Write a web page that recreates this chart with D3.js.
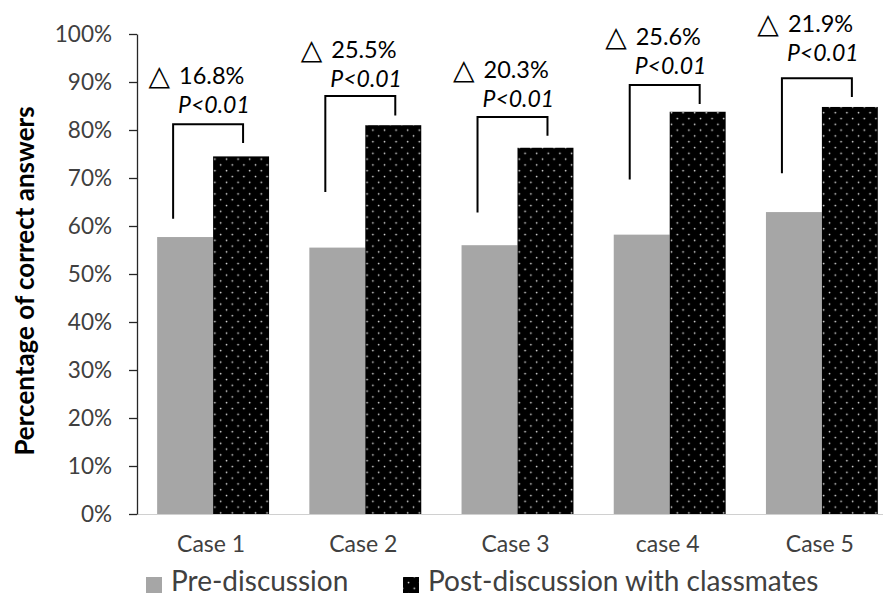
<!DOCTYPE html>
<html>
<head>
<meta charset="utf-8">
<script src="https://cdn.jsdelivr.net/npm/d3@7"></script>
<style>
  html, body { margin: 0; padding: 0; background: #fff; }
  svg { display: block; font-family: Lato, "Open Sans", sans-serif; }
</style>
</head>
<body>
<svg id="chart" width="883" height="598"></svg>
<script>
// ---- data ----
const categories = ["Case 1", "Case 2", "Case 3", "case 4", "Case 5"];
const seriesNames = ["Pre-discussion", "Post-discussion with classmates"];
const preValues  = [57.7, 55.5, 56.0, 58.2, 62.9];
const postValues = [74.5, 81.0, 76.3, 83.8, 84.8];
const deltaLabels = ["16.8%", "25.5%", "20.3%", "25.6%", "21.9%"];
const pLabels = ["P<0.01", "P<0.01", "P<0.01", "P<0.01", "P<0.01"];
// bracket levels (in % units)
const bracketTop   = [81.2, 87.1, 82.7, 89.4, 90.8];
const bracketLeftEnd  = [61.5, 67.1, 62.8, 69.7, 71.0];
const bracketRightEnd = [77.3, 83.0, 78.8, 85.4, 86.9];
const labelLevel = [89.6, 95.0, 90.8, 97.7, 100.4];
const yTicks = [0, 10, 20, 30, 40, 50, 60, 70, 80, 90, 100];

// ---- layout ----
const svg = d3.select("#chart");
const plotLeft = 137, plotTop = 34, plotBottom = 514, bandStep = 152.2;

const x0 = d3.scaleBand().domain(categories)
  .range([plotLeft, plotLeft + bandStep * categories.length]).padding(0);
const x1 = d3.scaleBand().domain(seriesNames)
  .range([0, x0.bandwidth()]).paddingInner(0).paddingOuter(0.36);
const y = d3.scaleLinear().domain([0, 100]).range([plotBottom, plotTop]);

// pattern
const defs = svg.append("defs");
const pat = defs.append("pattern").attr("id", "dots")
  .attr("patternUnits", "userSpaceOnUse").attr("width", 11.6).attr("height", 11.6);
pat.append("rect").attr("width", 11.6).attr("height", 11.6).attr("fill", "#000");
pat.append("circle").attr("cx", 2.5).attr("cy", 2.5).attr("r", 0.85).attr("fill", "#e6e6e6");
pat.append("circle").attr("cx", 8.3).attr("cy", 8.3).attr("r", 0.85).attr("fill", "#e6e6e6");

const colors = ["#a6a6a6", "url(#dots)"];

// x axis baseline
svg.append("line").attr("x1", plotLeft).attr("x2", 883)
  .attr("y1", plotBottom + 0.5).attr("y2", plotBottom + 0.5)
  .attr("stroke", "#d0d0d0").attr("stroke-width", 1.2);

// bars
const rows = categories.map((c, i) => ({c, vals: [preValues[i], postValues[i]]}));
const g = svg.append("g");
const groups = g.selectAll("g.cat").data(rows).join("g")
  .attr("transform", d => `translate(${x0(d.c)},0)`);
groups.selectAll("rect").data(d => d.vals.map((v, k) => ({k, v}))).join("rect")
  .attr("x", d => x1(seriesNames[d.k]))
  .attr("width", x1.bandwidth())
  .attr("y", d => y(d.v))
  .attr("height", d => y(0) - y(d.v))
  .attr("fill", d => colors[d.k]);

// y axis
const yAxis = d3.axisLeft(y).tickValues(yTicks).tickFormat(d => d + "%")
  .tickSizeOuter(0).tickSizeInner(8).tickPadding(17);
const ya = svg.append("g").attr("transform", `translate(${plotLeft},0)`).call(yAxis);
ya.select(".domain").attr("stroke", "#262626").attr("stroke-width", 1.3);
ya.selectAll(".tick line").attr("stroke", "#262626").attr("stroke-width", 1.3);
ya.selectAll(".tick text").attr("fill", "#404040")
  .style("font-family", "Lato, sans-serif").style("font-size", "22.5px");

// x labels
svg.append("g").selectAll("text").data(categories).join("text")
  .attr("x", d => x0(d) + x0.bandwidth() / 2 - 2)
  .attr("y", 552)
  .attr("text-anchor", "middle")
  .attr("fill", "#404040")
  .style("font-size", "23px")
  .text(d => d);

// y title
svg.append("text")
  .attr("transform", "translate(34,281) rotate(-90)")
  .attr("text-anchor", "middle")
  .attr("fill", "#000")
  .style("font-size", "26px").style("font-weight", "bold")
  .text("Percentage of correct answers");

// annotations
const ann = svg.append("g");
categories.forEach((c, i) => {
  const cx = x0(c) + x0.bandwidth() / 2;
  const preC = x0(c) + x1(seriesNames[0]) + x1.bandwidth() / 2;
  const postC = x0(c) + x1(seriesNames[1]) + x1.bandwidth() / 2;
  const lx = preC - 12, rx = postC + 2;
  ann.append("path")
    .attr("d", d3.line()([[lx, y(bracketLeftEnd[i])], [lx, y(bracketTop[i])],
                         [rx, y(bracketTop[i])], [rx, y(bracketRightEnd[i])]]))
    .attr("fill", "none").attr("stroke", "#000").attr("stroke-width", 2);
  const tx = cx - 34, ty = y(labelLevel[i]);
  ann.append("text").attr("x", tx - 9).attr("y", ty + 1)
    .attr("text-anchor", "end")
    .style("font-family", "'DejaVu Sans', sans-serif").style("font-size", "28px")
    .attr("fill", "#000").text("△");
  ann.append("text").attr("x", tx).attr("y", ty)
    .style("font-size", "23.5px").attr("fill", "#000").text(deltaLabels[i]);
  ann.append("text").attr("x", tx - 1).attr("y", ty + 29)
    .style("font-size", "23px").style("font-style", "italic").attr("fill", "#000")
    .text(pLabels[i]);
});

// legend
const legendX = [146, 403];
const leg = svg.append("g");
seriesNames.forEach((s, k) => {
  leg.append("rect").attr("x", legendX[k]).attr("y", 577).attr("width", 16).attr("height", 16)
    .attr("fill", colors[k]);
  leg.append("text").attr("x", legendX[k] + 25).attr("y", 591)
    .attr("fill", "#404040").style("font-size", "28px").text(s);
});
</script>
</body>
</html>
